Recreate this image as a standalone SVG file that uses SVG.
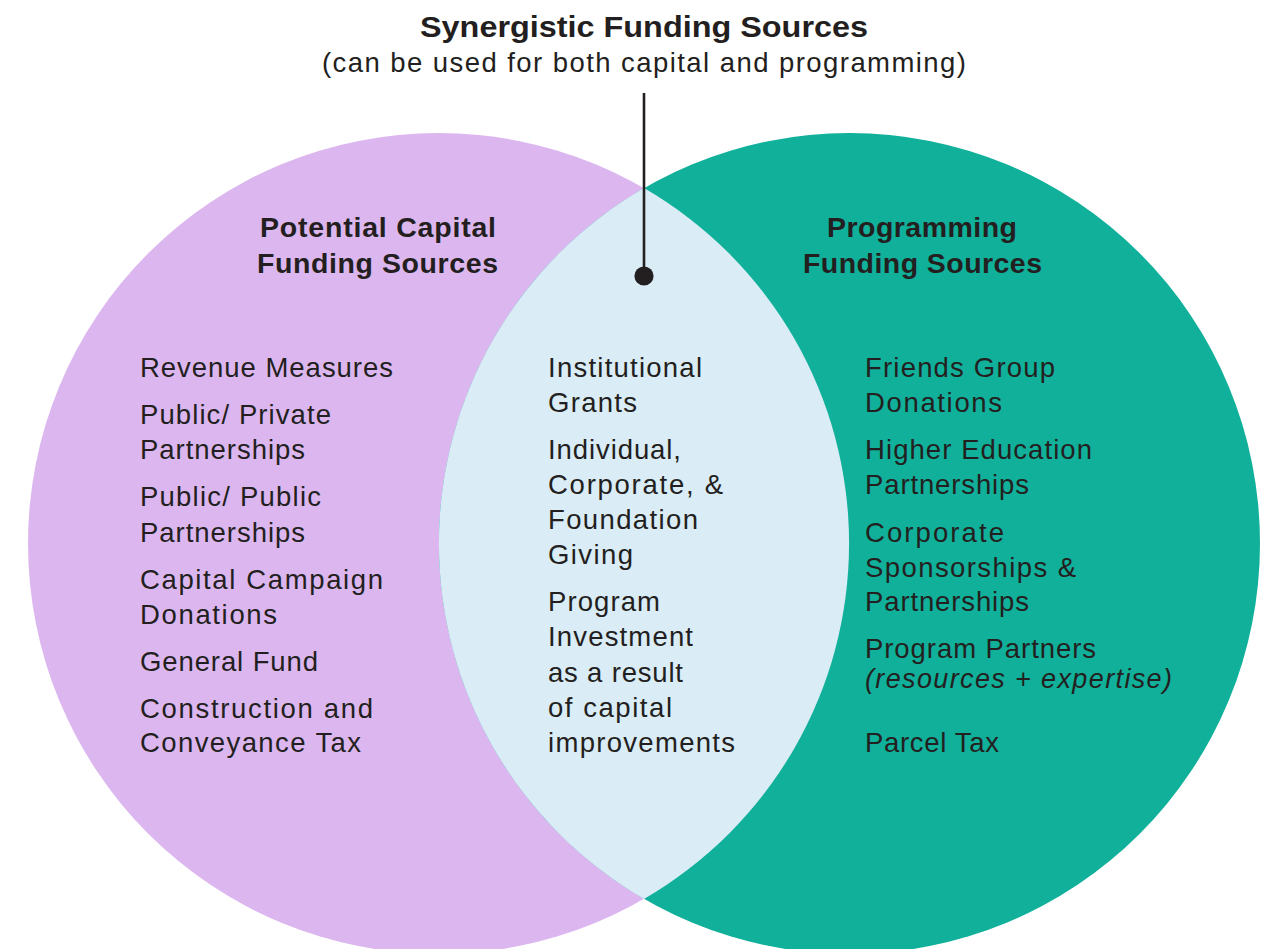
<svg xmlns="http://www.w3.org/2000/svg" width="1264" height="949" viewBox="0 0 1264 949">
  <style>
    text { fill: #231F20; font-family: "Liberation Sans", Arial, sans-serif; }
    .title { font-size: 30px; font-weight: bold; }
    .sub { font-size: 27.5px; }
    .head { font-size: 28.5px; font-weight: bold; }
    .item { font-size: 27.5px; }
    .ital { font-size: 27px; font-style: italic; }
  </style>

  <rect width="1264" height="949" fill="#FFFFFF"/>

  <!-- Venn circles -->
  <g id="capital-circle">
    <circle cx="438.5" cy="543.5" r="410.5" fill="#DCB7EF"/>
  </g>
  <g id="programming-circle">
    <circle cx="849.5" cy="543.5" r="410.5" fill="#10B09A"/>
  </g>
  <g id="synergy-lens">
    <path d="M644,188.1 A410.5,410.5 0 0 1 644,898.9 A410.5,410.5 0 0 1 644,188.1 Z" fill="#DAECF6"/>
  </g>

  <!-- Title block -->
  <g id="title">
    <text class="title" x="644" y="37" text-anchor="middle" textLength="448" lengthAdjust="spacingAndGlyphs">Synergistic Funding Sources</text>
    <text class="sub" x="644" y="72" text-anchor="middle" textLength="644" lengthAdjust="spacing">(can be used for both capital and programming)</text>
  </g>

  <!-- Pointer from title into the overlap -->
  <g id="connectors">
    <line x1="644" y1="93" x2="644" y2="274" stroke="#231F20" stroke-width="2.6"/>
    <circle cx="644" cy="276" r="9.6" fill="#231F20"/>
  </g>

  <!-- Left set: capital funding -->
  <g id="capital-sources">
    <text class="head" x="378" y="237" text-anchor="middle" textLength="236" lengthAdjust="spacing">Potential Capital</text>
    <text class="head" x="377.5" y="272.5" text-anchor="middle" textLength="241" lengthAdjust="spacing">Funding Sources</text>

    <text class="item" x="140" y="376.5" textLength="253" lengthAdjust="spacing">Revenue Measures</text>
    <text class="item" x="140" y="423.5" textLength="191" lengthAdjust="spacing">Public/ Private</text>
    <text class="item" x="140" y="458.5" textLength="165" lengthAdjust="spacing">Partnerships</text>
    <text class="item" x="140" y="505.5" textLength="181" lengthAdjust="spacing">Public/ Public</text>
    <text class="item" x="140" y="541.5" textLength="165" lengthAdjust="spacing">Partnerships</text>
    <text class="item" x="140" y="588.5" textLength="243" lengthAdjust="spacing">Capital Campaign</text>
    <text class="item" x="140" y="623.5" textLength="137" lengthAdjust="spacing">Donations</text>
    <text class="item" x="140" y="670.5" textLength="178" lengthAdjust="spacing">General Fund</text>
    <text class="item" x="140" y="717.5" textLength="233" lengthAdjust="spacing">Construction and</text>
    <text class="item" x="140" y="752" textLength="221" lengthAdjust="spacing">Conveyance Tax</text>
  </g>

  <!-- Overlap: synergistic sources -->
  <g id="synergistic-sources">
    <text class="item" x="548" y="376.5" textLength="154" lengthAdjust="spacing">Institutional</text>
    <text class="item" x="548" y="411.5" textLength="89" lengthAdjust="spacing">Grants</text>
    <text class="item" x="548" y="458.5" textLength="133" lengthAdjust="spacing">Individual,</text>
    <text class="item" x="548" y="494" textLength="175" lengthAdjust="spacing">Corporate, &amp;</text>
    <text class="item" x="548" y="529" textLength="150" lengthAdjust="spacing">Foundation</text>
    <text class="item" x="548" y="564" textLength="85" lengthAdjust="spacing">Giving</text>
    <text class="item" x="548" y="611" textLength="112" lengthAdjust="spacing">Program</text>
    <text class="item" x="548" y="646" textLength="145" lengthAdjust="spacing">Investment</text>
    <text class="item" x="548" y="681.5" textLength="135" lengthAdjust="spacing">as a result</text>
    <text class="item" x="548" y="716.5" textLength="124" lengthAdjust="spacing">of capital</text>
    <text class="item" x="548" y="752" textLength="187" lengthAdjust="spacing">improvements</text>
  </g>

  <!-- Right set: programming funding -->
  <g id="programming-sources">
    <text class="head" x="922" y="237" text-anchor="middle" textLength="190" lengthAdjust="spacing">Programming</text>
    <text class="head" x="922.5" y="272.5" text-anchor="middle" textLength="239" lengthAdjust="spacing">Funding Sources</text>

    <text class="item" x="865" y="376.5" textLength="190" lengthAdjust="spacing">Friends Group</text>
    <text class="item" x="865" y="411.5" textLength="137" lengthAdjust="spacing">Donations</text>
    <text class="item" x="865" y="458.5" textLength="227" lengthAdjust="spacing">Higher Education</text>
    <text class="item" x="865" y="493.5" textLength="164" lengthAdjust="spacing">Partnerships</text>
    <text class="item" x="865" y="541.5" textLength="139" lengthAdjust="spacing">Corporate</text>
    <text class="item" x="865" y="576.5" textLength="211" lengthAdjust="spacing">Sponsorships &amp;</text>
    <text class="item" x="865" y="611" textLength="164" lengthAdjust="spacing">Partnerships</text>
    <text class="item" x="865" y="658" textLength="231" lengthAdjust="spacing">Program Partners</text>
    <text class="ital" x="865" y="687.5" textLength="307" lengthAdjust="spacing">(resources + expertise)</text>
    <text class="item" x="865" y="752" textLength="134" lengthAdjust="spacing">Parcel Tax</text>
  </g>
</svg>
